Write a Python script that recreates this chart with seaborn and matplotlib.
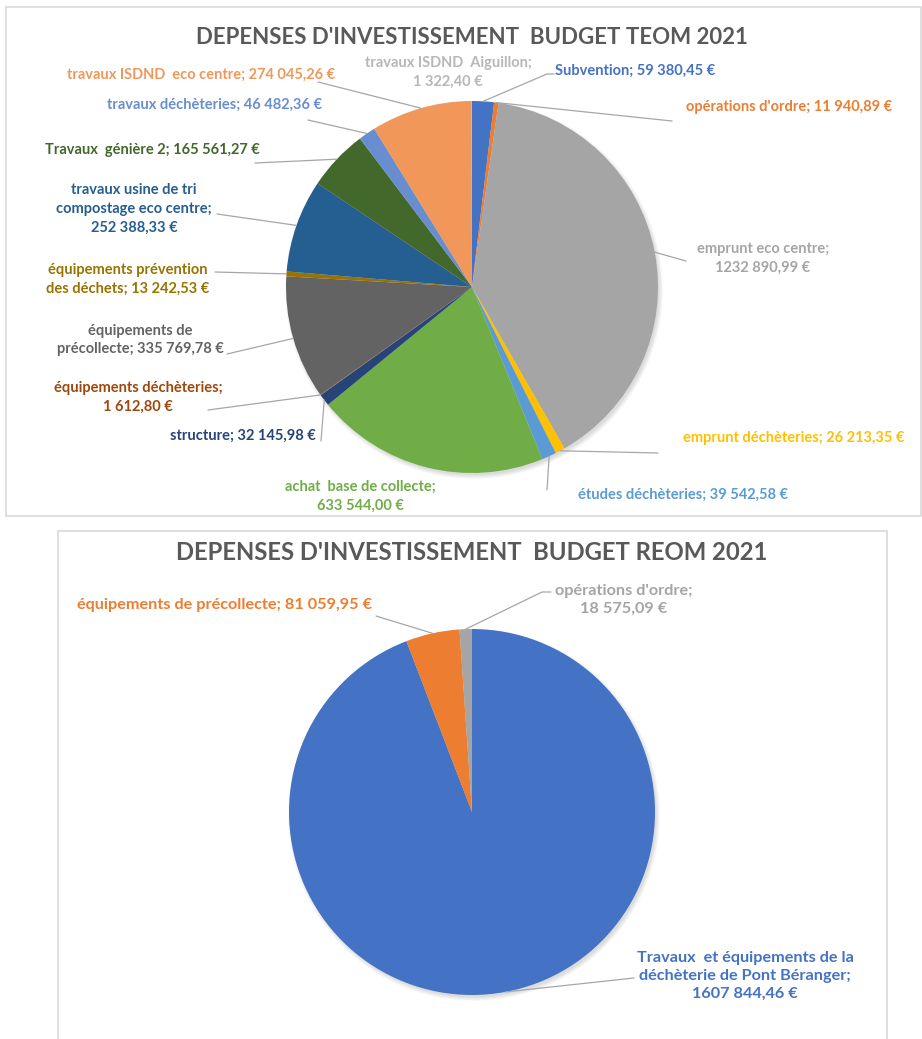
import matplotlib
matplotlib.use("Agg")
import numpy as np
import seaborn as sns
import matplotlib.pyplot as plt
from matplotlib.patches import Rectangle, Circle

sns.set_theme(style="white")
plt.rcParams["font.family"] = ["Lato", "DejaVu Sans"]

W, H = 922, 1039

# --- budget TEOM 2021 (ordre des secteurs, sens horaire depuis midi)
teom_names = ["Subvention", "opérations d'ordre", "emprunt eco centre",
              "emprunt déchèteries", "études déchèteries", "achat  base de collecte",
              "structure", "équipements déchèteries", "équipements de\nprécollecte",
              "équipements prévention\ndes déchets", "travaux usine de tri\ncompostage eco centre",
              "Travaux  génière 2", "travaux déchèteries", "travaux ISDND  eco centre",
              "travaux ISDND  Aiguillon"]
teom_values = [59380.45, 11940.89, 1232890.99, 26213.35, 39542.58, 633544.00,
               32145.98, 1612.80, 335769.78, 13242.53, 252388.33, 165561.27,
               46482.36, 274045.26, 1322.40]
teom_colors = ["#4472C4", "#ED7D31", "#A5A5A5", "#FFC000", "#5B9BD5", "#70AD47",
               "#264478", "#9E480E", "#636363", "#997300", "#255E91", "#43682B",
               "#698ED0", "#F1975A", "#B7B7B7"]

# --- budget REOM 2021
reom_names = ["Travaux  et équipements de la\ndéchèterie de Pont Béranger",
              "équipements de précollecte", "opérations d'ordre"]
reom_values = [1607844.46, 81059.95, 18575.09]
reom_colors = ["#4472C4", "#ED7D31", "#A5A5A5"]


def euro(v):
    ent, dec = f"{v:.2f}".split(".")
    if len(ent) > 3:
        ent = ent[:-3] + " " + ent[-3:]
    return f"{ent},{dec} €"


# mise en page des étiquettes : (x, y, ha, séparateur, fin du trait de rappel)
teom_layout = [
    (555, 71, "left", "; ", [(547, 74), (554, 74)]),
    (686, 107, "left", "; ", [(672, 121)]),
    (763, 258, "center", ";\n", [(686, 261)]),
    (683, 438, "left", "; ", [(658, 453)]),
    (578, 495, "left", "; ", [(547, 490)]),
    (360, 496, "center", ";\n", None),
    (316, 436, "right", "; ", [(321, 441)]),
    (138, 397, "center", ";\n", [(208, 410)]),
    (140, 340, "center", "; ", [(227, 354)]),
    (128, 279, "center", "; ", [(215, 272)]),
    (134, 209, "center", ";\n", [(217, 214)]),
    (260, 150, "right", "; ", [(255, 163)]),
    (322, 105, "right", "; ", [(308, 120)]),
    (335, 75, "right", "; ", [(318, 82)]),
    (448, 72, "center", ";\n", None),
]
reom_layout = [
    (745, 976, "center", ";\n", [(634, 978)]),
    (372, 605, "right", "; ", [(376, 616)]),
    (624, 600, "center", ";\n", [(542, 592), (551, 592)]),
]

fig = plt.figure(figsize=(W / 100, H / 100), dpi=100)
ax = fig.add_axes([0, 0, 1, 1])

# cadres des deux graphiques
ax.add_patch(Rectangle((6, H - 516), 915, 509, fill=False, ec="#D9D9D9", lw=1.2))
ax.add_patch(Rectangle((58, -10), 829, H - 531 + 10, fill=False, ec="#D9D9D9", lw=1.2))


def draw_pie(values, colors, names, layout, center, radius, title, title_y,
             label_size, title_size, spacing):
    cx, cy = center[0], H - center[1]
    for k in range(6):
        ax.add_patch(Circle((cx + 2, cy - 3), radius + 3 - k * 0.8,
                            color="#000000", alpha=0.025, lw=0, zorder=1))
    wedges, _ = ax.pie(values, colors=colors, startangle=90, counterclock=False,
                       center=(cx, cy), radius=radius,
                       wedgeprops=dict(linewidth=0, zorder=2))
    for w, name, val, col, lay in zip(wedges, names, values, colors, layout):
        x, y, ha, sep, leader = lay
        if leader:
            ang = np.deg2rad((w.theta1 + w.theta2) / 2)
            px = [cx + radius * np.cos(ang)] + [p[0] for p in leader]
            py = [cy + radius * np.sin(ang)] + [H - p[1] for p in leader]
            ax.plot(px, py, color="#A6A6A6", lw=0.9, zorder=3)
        ax.text(x, H - y, name + sep + euro(val), ha=ha, va="center",
                multialignment="center", color=col, fontsize=label_size,
                fontweight="bold", linespacing=spacing, zorder=4)
    ax.text(472, H - title_y, title, ha="center", va="center", color="#595959",
            fontsize=title_size, fontweight="bold")


draw_pie(teom_values, teom_colors, teom_names, teom_layout, (472, 287), 186,
         "DEPENSES D'INVESTISSEMENT  BUDGET TEOM 2021", 37, 10.5, 16, 1.42)
draw_pie(reom_values, reom_colors, reom_names, reom_layout, (472, 812), 183,
         "DEPENSES D'INVESTISSEMENT  BUDGET REOM 2021", 553, 11.7, 17.2, 1.38)

ax.set_xlim(0, W)
ax.set_ylim(0, H)
ax.set_aspect("equal")
ax.axis("off")

fig.savefig("out.png", dpi=100, facecolor="white")
